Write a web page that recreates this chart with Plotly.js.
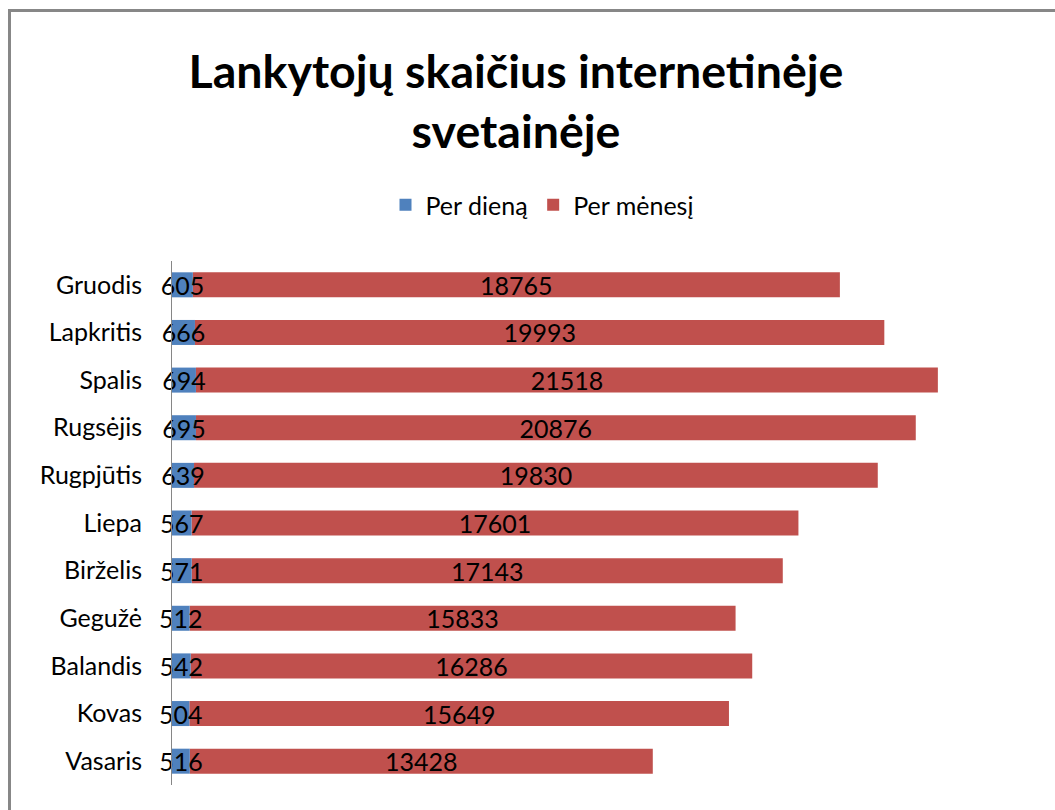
<!DOCTYPE html>
<html>
<head>
<meta charset="utf-8">
<script src="https://cdn.plot.ly/plotly-3.0.1.min.js"></script>
<style>
  html, body { margin: 0; padding: 0; background: #ffffff; }
  #chart { width: 1055px; height: 810px; }
</style>
</head>
<body>
<div id="chart"></div>
<script>
// Data (listed bottom to top as drawn)
const months = ["Vasaris", "Kovas", "Balandis", "Gegužė", "Birželis", "Liepa",
                "Rugpjūtis", "Rugsėjis", "Spalis", "Lapkritis", "Gruodis"];
const perDiena = [516, 504, 542, 512, 571, 567, 639, 695, 694, 666, 605];
const perMenesi = [13428, 15649, 16286, 15833, 17143, 17601, 19830, 20876, 21518, 19993, 18765];
const seriesNames = ["Per dieną", "Per mėnesį"];
const titleText = "Lankytojų skaičius internetinėje<br>svetainėje";

const W = 1055, H = 810;
const M = { l: 172, r: 21, t: 261, b: 25, pad: 0 };
const plotW = W - M.l - M.r, plotH = H - M.t - M.b;
const pxX = p => (p - M.l) / plotW;
const pxY = q => (H - M.b - q) / plotH;

const FONT = "Lato, 'Open Sans', sans-serif";

const common = {
  type: "bar",
  orientation: "h",
  y: months,
  textposition: "inside",
  insidetextanchor: "middle",
  constraintext: "none",
  textangle: 0,
  cliponaxis: false,
  textfont: { family: FONT, size: 25, color: "#000000" },
  insidetextfont: { family: FONT, size: 25, color: "#000000" },
  hoverinfo: "x+y+name"
};

// Red (monthly) drawn first, stacked on top of the daily value via base,
// so the daily labels are painted over it as in the reference.
const traces = [
  Object.assign({}, common, {
    name: seriesNames[1],
    x: perMenesi,
    base: perDiena,
    text: perMenesi.map(String),
    marker: { color: "#C0504D" }
  }),
  Object.assign({}, common, {
    name: seriesNames[0],
    x: perDiena,
    base: perDiena.map(() => 0),
    text: perDiena.map(String),
    marker: { color: "#4F81BD" }
  })
];

const layout = {
  width: W,
  height: H,
  margin: M,
  paper_bgcolor: "#ffffff",
  plot_bgcolor: "#ffffff",
  barmode: "overlay",
  bargap: 0.475,
  font: { family: FONT, size: 22, color: "#000000" },
  title: {
    text: titleText,
    font: { family: FONT, size: 46.5, weight: "bold", color: "#000000" },
    xref: "container", x: 516 / W, xanchor: "center",
    yref: "container", y: 1 - 88 / H, yanchor: "top"
  },
  showlegend: true,
  legend: {
    orientation: "h",
    xref: "container", x: 542 / W, xanchor: "center",
    yref: "container", y: 1 - 205 / H, yanchor: "middle",
    font: { family: FONT, size: 25, color: "#000000" },
    traceorder: "reversed",
    bgcolor: "rgba(0,0,0,0)"
  },
  xaxis: {
    range: [0, 25000],
    showgrid: false,
    zeroline: false,
    showticklabels: false,
    showline: false,
    ticks: "",
    fixedrange: true
  },
  yaxis: {
    type: "category",
    showgrid: false,
    zeroline: false,
    showline: true,
    linecolor: "#868686",
    linewidth: 1,
    ticks: "",
    ticklabelstandoff: 24,
    tickfont: { family: FONT, size: 25, color: "#000000" },
    fixedrange: true
  },
  shapes: [
    {
      type: "rect",
      xref: "paper", yref: "paper",
      x0: pxX(9.5), x1: pxX(W + 20),
      y0: pxY(H + 20), y1: pxY(10.5),
      line: { color: "#878787", width: 3 },
      fillcolor: "rgba(0,0,0,0)",
      layer: "below"
    }
  ]
};

Plotly.newPlot("chart", traces, layout, { displayModeBar: false, responsive: false });
</script>
</body>
</html>
